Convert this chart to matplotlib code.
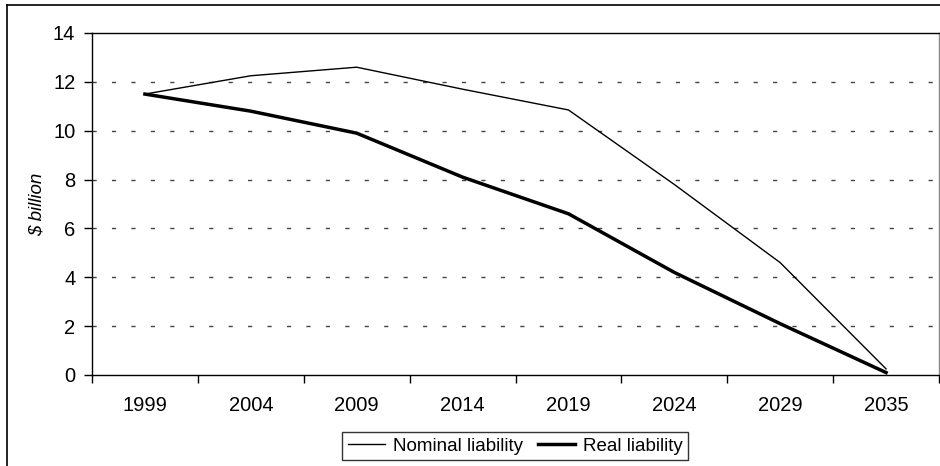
import matplotlib
matplotlib.use("Agg")
import matplotlib.pyplot as plt
from matplotlib.lines import Line2D

years = ["1999", "2004", "2009", "2014", "2019", "2024", "2029", "2035"]
nominal = [11.5, 12.25, 12.6, 11.7, 10.85, 7.8, 4.6, 0.25]
real = [11.5, 10.8, 9.9, 8.1, 6.6, 4.2, 2.1, 0.1]
yticks = [0, 2, 4, 6, 8, 10, 12, 14]

plt.rcParams['font.family'] = ['Liberation Sans', 'DejaVu Sans']
FS = 14.5
LFS = 13.5

W, H = 940, 466
fig = plt.figure(figsize=(W / 100, H / 100), dpi=100)
ax = fig.add_axes([92 / W, 1 - 375 / H, (939 - 92) / W, (375 - 33) / H])

x = list(range(len(years)))
ax.plot(x, nominal, color='black', lw=1.0, label='Nominal liability')
ax.plot(x, real, color='black', lw=2.5, label='Real liability')

ax.set_xlim(-0.5, len(years) - 0.5)
ax.set_ylim(0, 14)
ax.set_yticks(yticks)
ax.set_yticklabels([str(v) for v in yticks], fontsize=FS)
ax.set_xticks(x)
ax.set_xticklabels(years, fontsize=FS)
ax.set_xticks([i - 0.5 for i in range(len(years) + 1)], minor=True)
ax.tick_params(axis='x', which='major', length=0, pad=15)
ax.tick_params(axis='x', which='minor', length=6, width=1, direction='out')
ax.tick_params(axis='y', length=6, width=1, direction='out', pad=6)

for v in yticks[1:-1]:
    ax.axhline(v, color='#444444', lw=1.0, dashes=(3, 11), zorder=0)

for s in ax.spines.values():
    s.set_color('black')
    s.set_linewidth(1.0)
ax.spines['right'].set_color('#888888')

ax.set_ylabel('$ billion'.replace('$', '\\$'), fontsize=LFS, style='italic', labelpad=5)

leg = fig.legend(loc='upper center', bbox_to_anchor=(515 / W, 1 - 432 / H), ncol=2,
                 fontsize=LFS, frameon=True, fancybox=False, edgecolor='black',
                 handlelength=2.0, handletextpad=0.4, columnspacing=0.8,
                 borderpad=0.3, borderaxespad=0)
leg.get_frame().set_linewidth(1.0)

# outer chart border (top and left visible)
fig.add_artist(Line2D([7 / W, 1.0], [1 - 5 / H, 1 - 5 / H], color='black', lw=1.2, transform=fig.transFigure))
fig.add_artist(Line2D([7 / W, 7 / W], [0, 1 - 5 / H], color='black', lw=1.2, transform=fig.transFigure))

fig.savefig('out.png', dpi=100)
